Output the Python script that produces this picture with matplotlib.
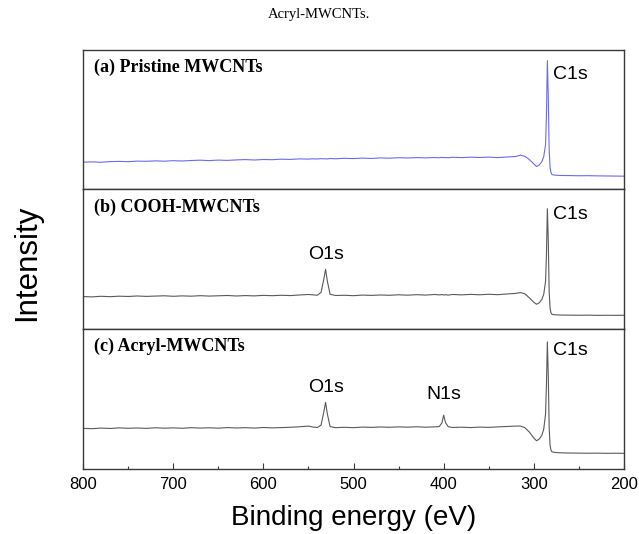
import matplotlib
matplotlib.use("Agg")
import matplotlib.pyplot as plt
from matplotlib.ticker import MultipleLocator

# binding energy (eV), shared by all three survey spectra
energy = [800, 790, 780, 770, 760, 750, 740, 730, 720, 710,
          700, 690, 680, 670, 660, 650, 640, 630, 620, 610,
          600, 590, 580, 570, 560, 550,
          545, 540, 536, 533, 531, 529, 526, 520,
          510, 500, 490, 480, 470, 460, 450, 440, 430, 420, 410,
          405, 402, 400, 398, 395, 390,
          380, 370, 360, 350, 340, 330, 320,
          315, 310, 305, 300, 297, 294, 291, 289, 287, 286, 285, 284, 283, 282, 281, 280,
          278, 275, 270, 260, 250, 240, 230, 220, 210, 200]

# intensities (arb. units)
pristine = [27.3, 27.6, 27.2, 27.9, 28.1, 27.8, 28.4, 28.2, 28.6, 28.3,
            28.8, 28.5, 29.0, 29.3, 28.9, 29.4, 29.1, 29.6, 29.9, 29.5,
            30.0, 29.8, 30.3, 30.1, 30.6, 30.4,
            30.7, 30.5, 30.9, 30.6, 30.8, 30.5, 31.0, 30.7,
            31.2, 30.9, 31.4, 31.0, 31.6, 31.3, 31.8, 31.5, 31.9, 31.6, 32.0,
            31.7, 32.1, 31.8, 32.0, 31.7, 32.2,
            31.9, 32.3, 32.0, 32.4, 31.9, 32.5, 33.0,
            34.3, 33.2, 30.0, 25.5, 23.0, 24.5, 28.0, 33.0, 45.0, 75.0, 129.0, 95.0, 40.0, 22.0, 17.0, 15.0,
            14.5, 14.2, 14.0, 13.9, 13.7, 13.8, 13.6, 13.5, 13.4, 13.3]

cooh = [32.7, 32.4, 33.0, 32.6, 33.1, 32.8, 33.3, 32.9, 33.2, 33.5,
        33.0, 33.4, 33.1, 33.6, 33.2, 33.5, 33.8, 33.3, 33.7, 33.4,
        33.9, 33.6, 34.0, 33.7, 34.3, 34.8,
        34.4, 34.1, 37.0, 50.0, 60.0, 48.0, 35.0, 33.8,
        34.0, 33.6, 34.2, 33.9, 34.3, 34.0, 34.5, 34.1, 34.6, 34.2, 34.8,
        34.4, 34.7, 34.3, 34.6, 34.2, 34.8,
        34.4, 34.9, 34.5, 35.0, 34.6, 35.3, 35.9,
        36.7, 35.5, 31.5, 27.0, 25.0, 26.5, 30.0, 35.0, 48.0, 75.0, 120.7, 90.0, 38.0, 21.0, 16.5, 15.0,
        14.6, 14.4, 14.2, 14.1, 14.0, 14.1, 13.9, 14.0, 13.9, 14.0]

acryl = [40.7, 40.4, 41.0, 40.6, 41.2, 40.8, 41.1, 40.7, 41.3, 40.9,
         41.2, 40.8, 41.4, 41.0, 41.3, 40.9, 41.5, 41.1, 41.4, 41.0,
         41.6, 41.2, 41.5, 41.8, 42.3, 43.0,
         42.0, 41.6, 44.0, 57.0, 66.7, 55.0, 42.5, 41.4,
         41.8, 41.4, 42.0, 41.7, 42.1, 41.8, 42.2, 41.9, 42.3, 41.9, 42.2,
         42.5, 46.0, 54.0, 46.5, 42.4, 41.6,
         41.9, 41.5, 42.0, 41.7, 42.2, 42.6, 43.0,
         43.0, 41.5, 37.0, 31.0, 28.3, 30.0, 34.0, 40.0, 55.0, 85.0, 127.3, 95.0, 42.0, 24.0, 19.0, 17.3,
         16.8, 16.5, 16.2, 16.0, 15.9, 15.8, 15.9, 15.7, 15.8, 15.7]

panel_titles = ["(a) Pristine MWCNTs", "(b) COOH-MWCNTs", "(c) Acryl-MWCNTs"]
colors = ["#6b6bee", "#5a5a5a", "#5a5a5a"]
series = [pristine, cooh, acryl]

# peak labels per panel: (text, energy, intensity)
peak_labels = [
    [("C1s", 279, 115)],
    [("C1s", 279, 115), ("O1s", 530, 75)],
    [("C1s", 279, 119), ("O1s", 530, 82), ("N1s", 400, 75)],
]

sans = "Liberation Sans"
serif = "Liberation Serif"
frame = "#3a3a3a"

fig = plt.figure(figsize=(6.39, 5.34), dpi=100)
gs = fig.add_gridspec(3, 1, left=0.130, right=0.9765, top=0.907, bottom=0.1217, hspace=0)
axes = [fig.add_subplot(gs[i]) for i in range(3)]

for i, ax in enumerate(axes):
    ax.plot(energy, series[i], color=colors[i], lw=0.8)
    ax.set_xlim(800, 200)
    ax.set_ylim(0, 140)
    ax.set_yticks([])
    for s in ax.spines.values():
        s.set_color(frame)
        s.set_linewidth(1.0)
    ax.text(0.02, 0.875, panel_titles[i], transform=ax.transAxes, fontsize=13,
            fontweight="bold", family=serif, va="center", ha="left")
    for txt, x, y in peak_labels[i]:
        ha = "left" if txt == "C1s" else "center"
        ax.text(x, y, txt, fontsize=14, family=sans, ha=ha, va="center")
    if i < 2:
        ax.tick_params(axis="x", which="both", bottom=False, labelbottom=False)
    else:
        ax.xaxis.set_major_locator(MultipleLocator(100))
        ax.xaxis.set_minor_locator(MultipleLocator(50))
        ax.tick_params(axis="x", which="major", direction="in", length=4, width=0.8,
                       color=frame, labelsize=12, pad=6)
        ax.tick_params(axis="x", which="minor", direction="in", length=2.5, width=0.8, color=frame)
        for lab in ax.get_xticklabels():
            lab.set_family(sans)
        ax.set_xlabel("Binding energy (eV)", fontsize=20, family=sans, labelpad=9)

fig.text(0.042, 0.508, "Intensity", rotation=90, fontsize=22.5, family=sans,
         ha="center", va="center")
fig.text(0.5, 0.972, "Acryl-MWCNTs.", fontsize=10.5, family=serif, ha="center", va="center")

fig.savefig("out.png", dpi=100)
